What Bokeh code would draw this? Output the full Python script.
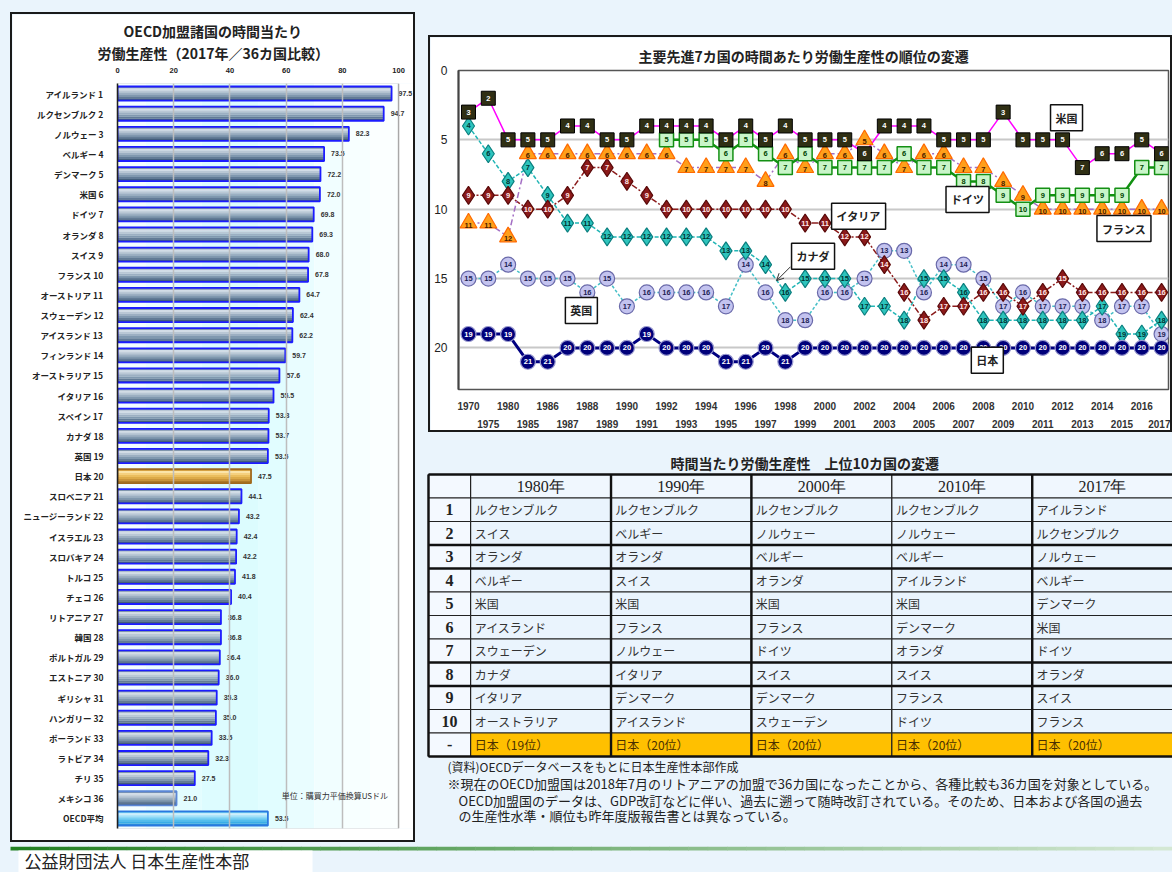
from bokeh.plotting import figure
from bokeh.models import (ColumnDataSource, FactorRange, Range1d, LinearAxis, FixedTicker,
                          Label, Arrow, OpenHead, Spacer, BoxAnnotation, Title)
from bokeh.layouts import row, column
from bokeh.transform import dodge
from bokeh.core.properties import value
from bokeh.embed import file_html
from bokeh.resources import INLINE

JP = "Noto Sans CJK JP"
SANS = "Liberation Sans"
SERIF = "Liberation Serif"
PAGE_BG = "#eaf4fc"

# ---------------- data: bar chart (2017, 36 countries) ----------------
bar_countries = ["アイルランド", "ルクセンブルク", "ノルウェー", "ベルギー", "デンマーク", "米国",
                 "ドイツ", "オランダ", "スイス", "フランス", "オーストリア", "スウェーデン",
                 "アイスランド", "フィンランド", "オーストラリア", "イタリア", "スペイン", "カナダ",
                 "英国", "日本", "スロベニア", "ニュージーランド", "イスラエル", "スロバキア",
                 "トルコ", "チェコ", "リトアニア", "韓国", "ポルトガル", "エストニア",
                 "ギリシャ", "ハンガリー", "ポーランド", "ラトビア", "チリ", "メキシコ", "OECD平均"]
bar_values = [97.5, 94.7, 82.3, 73.5, 72.2, 72.0, 69.8, 69.3, 68.0, 67.8, 64.7, 62.4,
              62.2, 59.7, 57.6, 55.5, 53.8, 53.7, 53.5, 47.5, 44.1, 43.2, 42.4, 42.2,
              41.8, 40.4, 36.8, 36.8, 36.4, 36.0, 35.3, 35.0, 33.5, 32.3, 27.5, 21.0, 53.5]
bar_ticks = [0, 20, 40, 60, 80, 100]

# ---------------- data: G7 rank history ----------------
years = ["1970", "1975", "1980", "1985", "1986", "1987", "1988", "1989", "1990", "1991",
         "1992", "1993", "1994", "1995", "1996", "1997", "1998", "1999", "2000", "2001",
         "2002", "2003", "2004", "2005", "2006", "2007", "2008", "2009", "2010", "2011",
         "2012", "2013", "2014", "2015", "2016", "2017"]
rank_us = [3, 2, 5, 5, 5, 4, 4, 5, 5, 4, 4, 4, 4, 5, 4, 5, 4, 5, 5, 5,
           6, 4, 4, 4, 5, 5, 5, 3, 5, 5, 5, 7, 6, 6, 5, 6]
rank_de = [None, None, None, None, None, None, None, None, None, None,
           5, 5, 5, 6, 5, 6, 7, 6, 7, 7, 7, 7, 6, 7, 7, 8, 8, 9, 10, 9,
           9, 9, 9, 9, 7, 7]
rank_fr = [11, 11, 12, 6, 6, 6, 6, 6, 6, 6, 6, 7, 7, 7, 7, 8, 6, 7, 6, 6,
           5, 6, 7, 6, 6, 7, 7, 8, 9, 10, 10, 10, 10, 10, 10, 10]
rank_it = [9, 9, 9, 10, 10, 9, 7, 7, 8, 9, 10, 10, 10, 10, 10, 10, 10, 11, 11, 12,
           12, 14, 16, 18, 17, 17, 16, 16, 17, 16, 15, 16, 16, 16, 16, 16]
rank_ca = [4, 6, 8, 7, 9, 11, 11, 12, 12, 12, 12, 12, 12, 13, 13, 14, 16, 15, 15, 15,
           17, 17, 18, 15, 15, 16, 18, 18, 18, 18, 18, 18, 17, 19, 19, 18]
rank_uk = [15, 15, 14, 15, 15, 15, 16, 15, 17, 16, 16, 16, 16, 17, 14, 16, 18, 18, 16, 16,
           15, 13, 13, 16, 14, 14, 15, 17, 16, 17, 17, 17, 18, 17, 17, 19]
rank_jp = [19, 19, 19, 21, 21, 20, 20, 20, 20, 19, 20, 20, 20, 21, 21, 20, 21, 20, 20, 20,
           20, 20, 20, 20, 20, 20, 20, 20, 20, 20, 20, 20, 20, 20, 20, 20]
rank_ticks = [0, 5, 10, 15, 20]

# ---------------- data: top-10 table ----------------
table_years = ["1980年", "1990年", "2000年", "2010年", "2017年"]
table_ranks = ["1", "2", "3", "4", "5", "6", "7", "8", "9", "10"]
top10_1980 = ["ルクセンブルク", "スイス", "オランダ", "ベルギー", "米国", "アイスランド",
              "スウェーデン", "カナダ", "イタリア", "オーストラリア"]
top10_1990 = ["ルクセンブルク", "ベルギー", "オランダ", "スイス", "米国", "フランス",
              "ノルウェー", "イタリア", "デンマーク", "アイスランド"]
top10_2000 = ["ルクセンブルク", "ノルウェー", "ベルギー", "オランダ", "米国", "フランス",
              "ドイツ", "スイス", "デンマーク", "スウェーデン"]
top10_2010 = ["ルクセンブルク", "ノルウェー", "ベルギー", "アイルランド", "米国", "デンマーク",
              "オランダ", "スイス", "フランス", "ドイツ"]
top10_2017 = ["アイルランド", "ルクセンブルク", "ノルウェー", "ベルギー", "デンマーク", "米国",
              "ドイツ", "オランダ", "スイス", "フランス"]
japan_row = ["日本（19位）", "日本（20位）", "日本（20位）", "日本（20位）", "日本（20位）"]

notes = ["(資料)OECDデータベースをもとに日本生産性本部作成",
         "※現在のOECD加盟国は2018年7月のリトアニアの加盟で36カ国になったことから、各種比較も36カ国を対象としている。",
         "OECD加盟国のデータは、GDP改訂などに伴い、過去に遡って随時改訂されている。そのため、日本および各国の過去",
         "の生産性水準・順位も昨年度版報告書とは異なっている。"]


def boxed(fig, w, h, color="#1a1a1a", t=2):
    bg = {"background-color": color}
    return column(
        Spacer(width=w + 2 * t, height=t, styles=bg),
        row(Spacer(width=t, height=h, styles=bg), fig, Spacer(width=t, height=h, styles=bg)),
        Spacer(width=w + 2 * t, height=t, styles=bg),
    )


# ======================= BAR CHART =======================
bar_labels = [f"{c} {i + 1}" for i, c in enumerate(bar_countries[:-1])] + [bar_countries[-1]]
NORMAL = ["#7f95ac", "#d2dce6", "#b9c7d5", "#9cafc2", "#8098af", "#627b96", "#425d7a"]
GOLD = ["#d4a042", "#fbe4a8", "#f5d07e", "#ebbe5e", "#dcaa48", "#c9943a", "#ad7a2a"]
SKY = ["#6ec9f0", "#cdeffc", "#a2e0f8", "#78d0f3", "#52beec", "#38aee6", "#2699d8"]
layer_cols = {f"c{k}": [] for k in range(7)}
edges = []
for c in bar_countries:
    pal = GOLD if c == "日本" else SKY if c == "OECD平均" else NORMAL
    for k in range(7):
        layer_cols[f"c{k}"].append(pal[k])
    edges.append("#a0691c" if c == "日本" else "#2a78e0" if c == "OECD平均"
                 else "#5a86d6" if c == "メキシコ" else "#1c1cff")
bsrc = ColumnDataSource(dict(label=bar_labels, value=bar_values,
                             vtext=[f"{v:.1f}" for v in bar_values], edge=edges, **layer_cols))

BW, BH = 401, 826
pb = figure(width=BW, height=BH, y_range=FactorRange(factors=bar_labels[::-1], range_padding=0),
            x_range=Range1d(0, 105.3), x_axis_location="above", output_backend="svg",
            toolbar_location=None, min_border_left=105, min_border_right=0,
            min_border_top=69, min_border_bottom=12,
            title="OECD加盟諸国の時間当たり")
pb.background_fill_color = "white"
pb.border_fill_color = "white"
pb.outline_line_color = None
title_style = dict(text_font=JP, text_font_size="14px", text_font_style="bold",
                   text_color="#222")
pb.title.align = "left"
pb.title.vertical_align = "top"
pb.title.offset = 6
pb.title.standoff = 0
for k, v in title_style.items():
    setattr(pb.title, k, v)
pb.add_layout(Title(text="労働生産性（2017年／36カ国比較）", align="left", offset=-20, standoff=0,
                    vertical_align="top", **title_style), "above")

band_cols = ["#f3fdff", "#ebfdff", "#e3fdff", "#ddfcff", "#dcfcfe",
             "#e1fdff", "#e9fdff", "#f1feff", "#f7ffff", "#fbffff"]
for k, col in enumerate(band_cols):
    pb.add_layout(BoxAnnotation(left=10 * k, right=10 * (k + 1), fill_color=col, fill_alpha=1,
                                line_color=None, level="underlay"))

pb.xaxis.ticker = FixedTicker(ticks=bar_ticks)
pb.xgrid.ticker = FixedTicker(ticks=bar_ticks[1:])
pb.xgrid.grid_line_color = "#bdbdbd"
pb.xgrid.grid_line_width = 1.5
pb.xgrid.level = "glyph"
pb.ygrid.grid_line_color = None
pb.xaxis.axis_line_color = None
pb.xaxis.major_tick_line_color = None
pb.xaxis.minor_tick_line_color = None
pb.xaxis.major_label_standoff = 5
pb.xaxis.major_label_text_font = SANS
pb.xaxis.major_label_text_font_size = "7.5px"
pb.xaxis.major_label_text_font_style = "bold"
pb.xaxis.major_label_text_color = "#222"
pb.yaxis.axis_line_color = "#111"
pb.yaxis.axis_line_width = 1.5
pb.yaxis.major_tick_line_color = None
pb.yaxis.minor_tick_line_color = None
pb.yaxis.major_label_standoff = 8
pb.yaxis.major_label_text_font = JP
pb.yaxis.major_label_text_font_size = "8.5px"
pb.yaxis.major_label_text_font_style = "bold"
pb.yaxis.major_label_text_color = "#222"

layer_offsets = [0.3, 0.2, 0.1, 0.0, -0.1, -0.2, -0.3]
for k, off in enumerate(layer_offsets):
    pb.hbar(y=dodge("label", off, range=pb.y_range), left=0, right="value", height=0.108,
            fill_color=f"c{k}", line_color=None, source=bsrc)
pb.hbar(y="label", left=0, right="value", height=0.7, fill_color=None,
        line_color="edge", line_width=1.8, source=bsrc)
pb.text(x="value", y="label", text="vtext", x_offset=7, text_baseline="middle",
        text_align="left", text_font=value(SANS), text_font_size="7px",
        text_font_style="bold", text_color="#333", source=bsrc)
pb.add_layout(BoxAnnotation(left=0, right=100, fill_alpha=0, line_color="#777", line_width=1.2))
pb.add_layout(Label(x=58.4, y=33, y_units="screen", text="単位：購買力平価換算USドル",
                    text_align="left", text_baseline="middle", text_font=JP,
                    text_font_size="8px", text_color="#333"))

# ======================= LINE CHART =======================
LW, LH = 740, 393
pl = figure(width=LW, height=LH, x_range=Range1d(-0.505, 35.35), y_range=Range1d(23, 0),
            x_axis_type=None, output_backend="svg", toolbar_location=None,
            min_border_left=28, min_border_right=2, min_border_top=33, min_border_bottom=35,
            title="主要先進7カ国の時間あたり労働生産性の順位の変遷")
pl.title.align = "left"
pl.title.offset = 180
pl.title.standoff = 9
for k, v in title_style.items():
    setattr(pl.title, k, v)
pl.background_fill_color = "white"
pl.border_fill_color = "white"
pl.outline_line_color = "#555"
pl.outline_line_width = 1.5
pl.yaxis.ticker = FixedTicker(ticks=rank_ticks)
pl.yaxis.axis_line_color = "#444"
pl.yaxis.axis_line_width = 2
pl.yaxis.major_tick_line_color = None
pl.yaxis.minor_tick_line_color = None
pl.yaxis.major_label_standoff = 5
pl.yaxis.major_label_text_font = SANS
pl.yaxis.major_label_text_font_size = "12px"
pl.yaxis.major_label_text_color = "#222"
pl.ygrid.grid_line_color = "#c8c8c8"
pl.ygrid.grid_line_width = 2

even = [i for i in range(len(years)) if i % 2 == 0]
odd = [i for i in range(len(years)) if i % 2 == 1]
for ticks, standoff in ((even, 6), (odd, 1)):
    ax = LinearAxis(ticker=FixedTicker(ticks=ticks),
                    major_label_overrides={i: years[i] for i in ticks},
                    axis_line_color=None, major_tick_line_color=None,
                    minor_tick_line_color=None, major_label_standoff=standoff,
                    major_label_text_font=SANS, major_label_text_font_size="10px",
                    major_label_text_font_style="bold", major_label_text_color="#333")
    pl.add_layout(ax, "below")

series = [
    (rank_uk, dict(line_color="#45bfc7", line_dash="3 2", line_width=1.5),
     dict(marker="circle", size=15, fill_color="#c3c3ef", line_color="#6a6aaa", line_width=1.2), "#1f1f55", 0),
    (rank_ca, dict(line_color="#22b5b5", line_dash="4 2", line_width=1.5),
     dict(marker="diamond", size=18, fill_color="#2ec4bc", line_color="#0b7f7f", line_width=1.2), "#003333", 0),
    (rank_it, dict(line_color="#8b1c1c", line_dash="6 2 2 2", line_width=1.5),
     dict(marker="diamond", size=18, fill_color="#8b1a1a", line_color="#5a0a0a", line_width=1.2), "#ffe6e6", 0),
    (rank_fr, dict(line_color="#a46fc4", line_dash="6 3 2 3", line_width=1.5),
     dict(marker="triangle", size=17, fill_color="#ff9f1a", line_color="#ff6a00", line_width=1.2), "#4a2000", 2),
    (rank_de, dict(line_color="#119111", line_width=2.5),
     dict(marker="square", size=14, fill_color="#c9f5c9", line_color="#149014", line_width=1.5), "#004400", 0),
    (rank_us, dict(line_color="#ff00ff", line_width=1.5),
     dict(marker="square", size=14, fill_color="#2f2f14", line_color="#000000", line_width=1), "#ffffff", 0),
    (rank_jp, dict(line_color="#000080", line_width=3),
     dict(marker="circle", size=15, fill_color="#00007a", line_color="#9a9ad0", line_width=1.2), "#ffffff", 0),
]
sources = []
for ranks, lstyle, mstyle, tcol, yoff in series:
    idx = [i for i, r in enumerate(ranks) if r is not None]
    s = ColumnDataSource(dict(x=idx, y=[ranks[i] for i in idx], t=[str(ranks[i]) for i in idx]))
    sources.append(s)
    pl.line(x="x", y="y", source=s, **lstyle)
for (ranks, lstyle, mstyle, tcol, yoff), s in zip(series, sources):
    pl.scatter(x="x", y="y", source=s, **mstyle)
    pl.text(x="x", y="y", text="t", source=s, y_offset=yoff, text_align="center",
            text_baseline="middle", text_font=value(SANS), text_font_size="7.5px",
            text_font_style="bold", text_color=tcol)

for txt, lx, ly in [("米国", 30.2, 3.4), ("ドイツ", 25.2, 9.3), ("イタリア", 19.7, 10.5),
                    ("フランス", 33.1, 11.4), ("カナダ", 17.4, 13.4), ("英国", 5.7, 17.3),
                    ("日本", 26.2, 20.9)]:
    pl.add_layout(Label(x=lx, y=ly, text=txt, text_align="center", text_baseline="middle",
                        text_font=JP, text_font_size="11px", text_font_style="bold",
                        text_color="#222", background_fill_color="white",
                        border_line_color="#111", border_line_width=1.5, padding=5))
pl.add_layout(Arrow(end=OpenHead(size=7, line_color="#333", line_width=1),
                    x_start=16.26, y_start=14.15, x_end=15.56, y_end=15.15,
                    line_color="#333", line_width=1))

# ======================= TABLE =======================
TW, TH = 748, 414
pt = figure(width=TW, height=TH, x_range=Range1d(-0.0285, 5.299), y_range=Range1d(15.83, -1.787),
            x_axis_type=None, y_axis_type=None, output_backend="svg", toolbar_location=None,
            min_border=0)
pt.outline_line_color = None
pt.background_fill_color = PAGE_BG
pt.border_fill_color = PAGE_BG

columns = [top10_1980, top10_1990, top10_2000, top10_2010, top10_2017]
cx, cy, cw, cf = [], [], [], []
hx, hy, ht = [], [], []
rx, ry, rt = [], [], []
bx, by, bt, bc = [], [], [], []
for r in range(12):
    cx.append(0.15); cy.append(r + 0.5); cw.append(0.3); cf.append("#f4f9ff")
for r, t in enumerate(table_ranks + ["-"]):
    rx.append(0.15); ry.append(r + 1.5); rt.append(t)
for c, yname in enumerate(table_years):
    left = 0.3 + c
    cx.append(left + 0.5); cy.append(0.5); cw.append(1.0); cf.append("#f0f7fe")
    hx.append(left + 0.5); hy.append(0.5); ht.append(yname)
    for r, name in enumerate(columns[c]):
        cx.append(left + 0.5); cy.append(r + 1.5); cw.append(1.0); cf.append("#eaf4fd")
        bx.append(left + 0.03); by.append(r + 1.5); bt.append(name); bc.append("#333333")
    cx.append(left + 0.5); cy.append(11.5); cw.append(1.0); cf.append("#ffc000")
    bx.append(left + 0.03); by.append(11.5); bt.append(japan_row[c]); bc.append("#4a3000")

pt.rect(x=cx, y=cy, width=cw, height=1.0, fill_color=cf, line_color="#222", line_width=1.2)
thick_h = [0, 3, 4, 8, 9, 12]
pt.segment(x0=[0] * len(thick_h), x1=[5.3] * len(thick_h), y0=thick_h, y1=thick_h,
           line_color="#111", line_width=2.6)
thick_v = [0, 1.3, 2.3, 4.3]
pt.segment(x0=thick_v, x1=thick_v, y0=[0] * len(thick_v), y1=[12] * len(thick_v),
           line_color="#111", line_width=2.4)
pt.text(x=hx, y=hy, text=ht, text_align="center", text_baseline="middle",
        text_font=value(SERIF), text_font_size="16px", text_color="#222")
pt.text(x=rx, y=ry, text=rt, text_align="center", text_baseline="middle",
        text_font=value(SERIF), text_font_size="16px", text_font_style="bold", text_color="#222")
pt.text(x=bx, y=by, text=bt, text_color=bc, text_align="left", text_baseline="middle",
        text_font=value(JP), text_font_size="12px")
pt.add_layout(Label(x=2.68, y=-0.51, text="時間当たり労働生産性　上位10カ国の変遷",
                    text_align="center", text_baseline="middle", text_font=JP,
                    text_font_size="14px", text_font_style="bold", text_color="#222"))
nsrc = ColumnDataSource(dict(x=[0.135, 0.135, 0.214, 0.214], y=[12.43, 13.15, 13.87, 14.51],
                             t=notes, fs=["12px", "13px", "13px", "13px"]))
pt.text(x="x", y="y", text="t", text_font_size="fs", source=nsrc,
        text_align="left", text_baseline="middle", text_font=value(JP), text_color="#222")

# ======================= FOOTER =======================
FW, FH = 1172, 26
pf = figure(width=FW, height=FH, x_range=Range1d(0, FW), y_range=Range1d(FH, 0),
            x_axis_type=None, y_axis_type=None, output_backend="svg", toolbar_location=None,
            min_border=0)
pf.outline_line_color = None
pf.background_fill_color = PAGE_BG
pf.border_fill_color = PAGE_BG
nseg = 60
c0, c1 = (34, 128, 34), (212, 232, 212)
gl, gr, gcol = [], [], []
for k in range(nseg):
    f = k / (nseg - 1)
    gl.append(10 + k * (FW - 10) / nseg)
    gr.append(10 + (k + 1) * (FW - 10) / nseg + 0.5)
    gcol.append("#%02x%02x%02x" % tuple(int(a + (b - a) * f) for a, b in zip(c0, c1)))
pf.quad(left=gl, right=gr, top=0, bottom=4, fill_color=gcol, line_color=None)
pf.quad(left=18, right=312, top=4, bottom=26, fill_color="white", line_color=None)
pf.text(x=[24], y=[1], text=["公益財団法人 日本生産性本部"], text_align="left",
        text_baseline="top", text_font=value(JP), text_font_size="17px", text_color="#222")

# ======================= LAYOUT =======================
left = row(Spacer(width=10, height=846),
           column(Spacer(width=405, height=12), boxed(pb, BW, BH), Spacer(width=405, height=4)),
           Spacer(width=9, height=846))
right = column(Spacer(width=748, height=35),
               row(Spacer(width=4, height=397), boxed(pl, LW, LH)),
               pt)
root = column(row(left, right), pf, styles={"background-color": PAGE_BG})

open("out.html", "w").write(file_html(root, INLINE))
